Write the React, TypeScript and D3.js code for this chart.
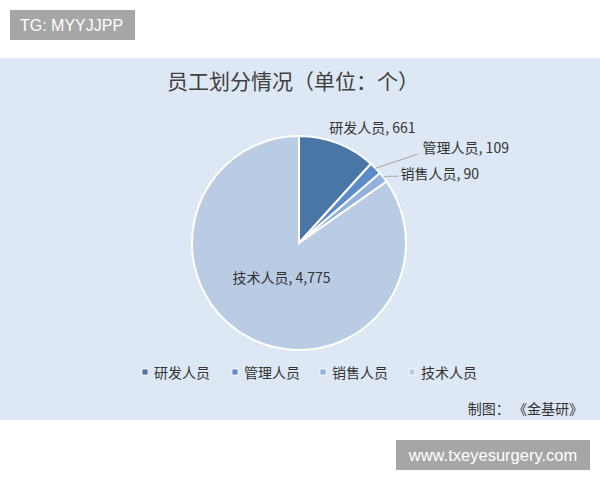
import React from 'react';
import * as d3 from 'd3';

const categories = ['研发人员', '管理人员', '销售人员', '技术人员'];
const values = [661, 109, 90, 4775];
const colors = ['#4a76a6', '#5b8cc8', '#93b2db', '#b9cce4'];
const title = '员工划分情况（单位：个）';
const source = '制图： 《金基研》';

const W = 600;
const H = 480;
const cx = 299;
const cy = 243;
const radius = 107;
const font = '"Noto Sans CJK SC", "Noto Sans", sans-serif';

interface Slice {
  name: string;
  value: number;
  color: string;
}

const App: React.FC = () => {
  const data: Slice[] = categories.map((name, i) => ({ name, value: values[i], color: colors[i] }));
  const pie = d3.pie<Slice>().sort(null).value((d) => d.value);
  const arcs = pie(data);
  const arc = d3.arc<d3.PieArcDatum<Slice>>().innerRadius(0).outerRadius(radius);
  const fmt = d3.format(',');

  const pointAt = (a: d3.PieArcDatum<Slice>, r: number): [number, number] => {
    const m = (a.startAngle + a.endAngle) / 2;
    return [Math.sin(m) * r, -Math.cos(m) * r];
  };

  return (
    <svg
      width={W}
      height={H}
      style={{ position: 'absolute', left: 0, top: 0, display: 'block' }}
      fontFamily={font}
    >
      <rect width={W} height={H} fill="#fff" />
      <rect x={10} y={10} width={125} height={30} fill="#a6a6a6" />
      <text x={20} y={31} fill="#fff" fontSize={16} fontFamily="Arial, 'Liberation Sans', sans-serif">
        TG: MYYJJPP
      </text>

      <rect x={0} y={58} width={W} height={362} fill="#dde8f4" />
      <text x={293} y={89} textAnchor="middle" fontSize={21} fill="#404040">
        {title}
      </text>

      <g transform={`translate(${cx},${cy})`}>
        {arcs.map((a) => (
          <path key={a.data.name} d={arc(a) ?? ''} fill={a.data.color} stroke="#fff" strokeWidth={2} />
        ))}
        {arcs.map((a, i) => {
          const [px, py] = pointAt(a, radius);
          const label = `${a.data.name}, ${fmt(a.data.value)}`;
          if (i === 0) {
            const [lx, ly] = pointAt(a, radius + 22);
            return (
              <text key={i} x={lx + 27} y={ly + 4} fontSize={14} fill="#333" textAnchor="middle" dominantBaseline="central">
                {label}
              </text>
            );
          }
          if (i === 1) {
            return (
              <g key={i}>
                <polyline points={`${px},${py} ${px + 42},${py - 14}`} fill="none" stroke="#a6a6a6" strokeWidth={1} />
                <text x={px + 47} y={py - 21} fontSize={14} fill="#333" dominantBaseline="central">
                  {label}
                </text>
              </g>
            );
          }
          if (i === 2) {
            return (
              <g key={i}>
                <polyline points={`${px},${py} ${px + 4},${py - 1} ${px + 15},${py - 1}`} fill="none" stroke="#a6a6a6" strokeWidth={1} />
                <text x={px + 17} y={py - 4} fontSize={14} fill="#333" dominantBaseline="central">
                  {label}
                </text>
              </g>
            );
          }
          const [tx, ty] = pointAt(a, 38);
          return (
            <text key={i} x={tx} y={ty} fontSize={14} fill="#333" textAnchor="middle" dominantBaseline="central">
              {label}
            </text>
          );
        })}
      </g>

      <g transform="translate(0,372)">
        {data.map((d, i) => {
          const x = [142, 232, 320, 409][i];
          return (
            <g key={d.name} transform={`translate(${x},0)`}>
              <rect x={0} y={-3} width={6} height={6} fill={d.color} stroke="#fff" strokeWidth={0.8} />
              <text x={12} y={0} fontSize={14} fill="#333" dominantBaseline="central">
                {d.name}
              </text>
            </g>
          );
        })}
      </g>

      <text x={583} y={408} textAnchor="end" fontSize={14} fill="#333" dominantBaseline="central">
        {source}
      </text>

      <rect x={396} y={440} width={194} height={30} fill="#a6a6a6" />
      <text x={493} y={461} textAnchor="middle" fill="#fff" fontSize={16.5} fontFamily="Arial, 'Liberation Sans', sans-serif">
        www.txeyesurgery.com
      </text>
    </svg>
  );
};

export default App;
